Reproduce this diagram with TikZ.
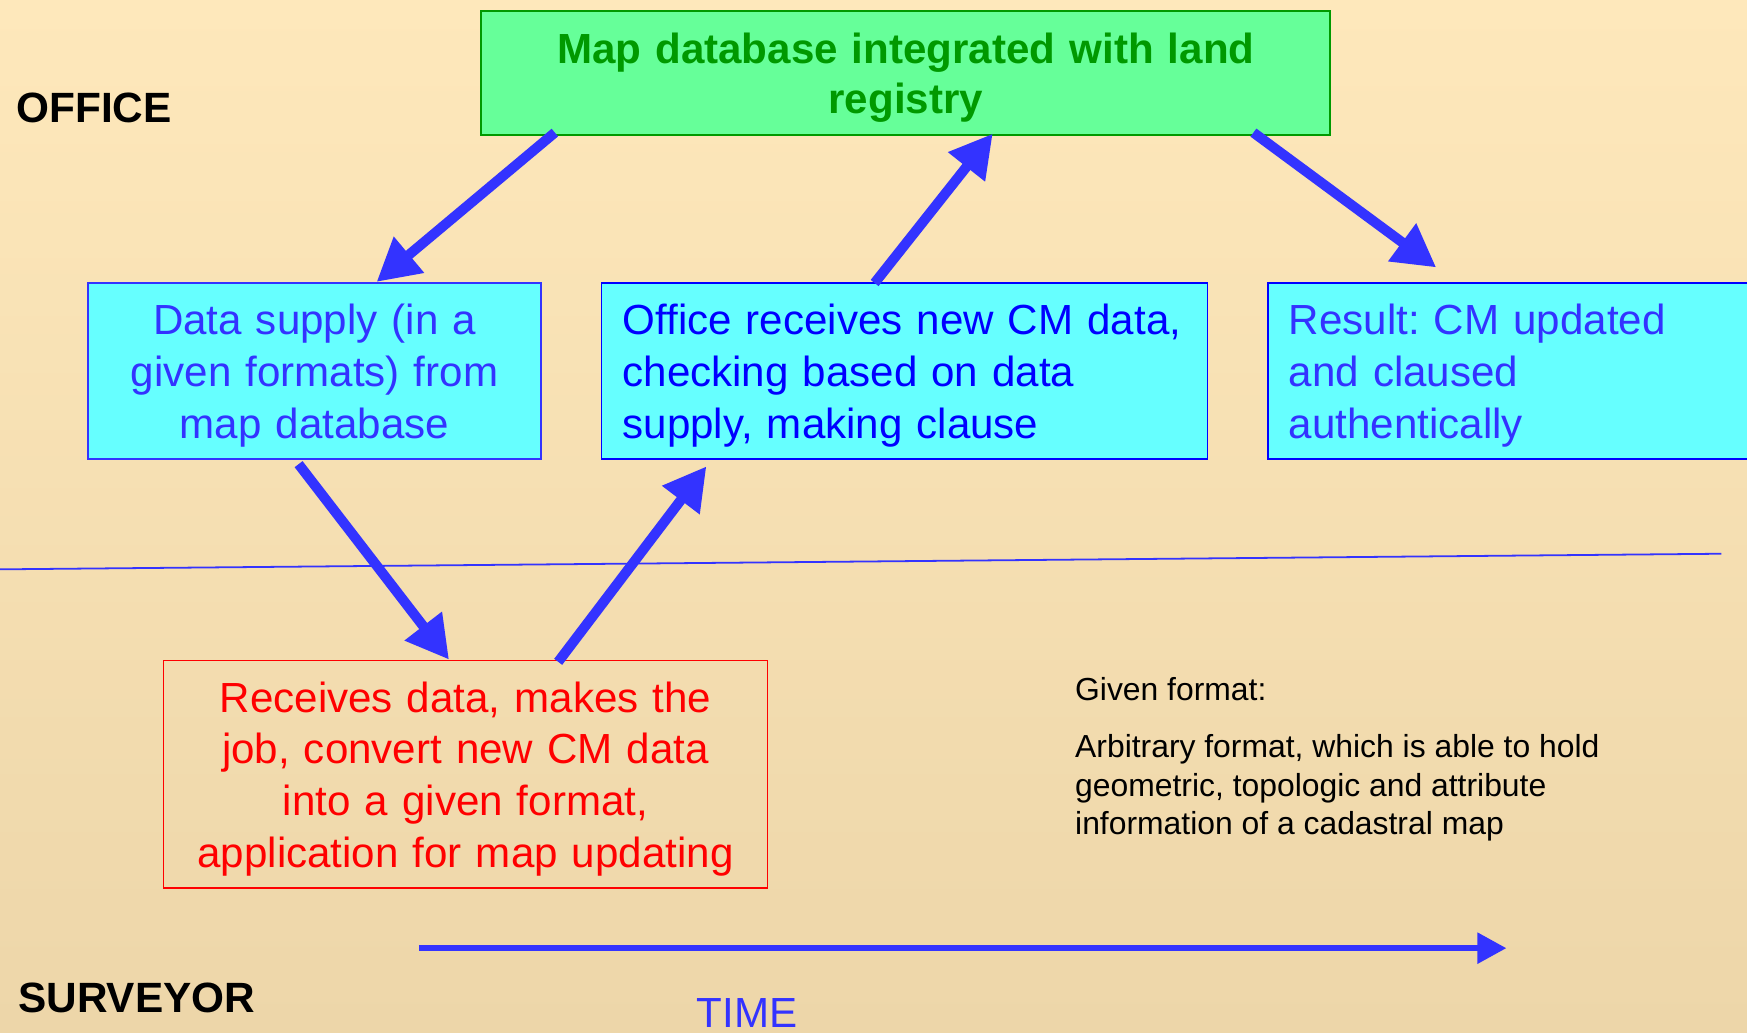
\documentclass[tikz,border=0pt]{standalone}
\usepackage{fontspec}
\setmainfont{Liberation Sans}
\usetikzlibrary{arrows.meta,calc}
\definecolor{bgtop}{HTML}{FEE8BB}
\definecolor{bgbot}{HTML}{EDD6A9}
\definecolor{gfill}{HTML}{66FF99}
\definecolor{gdark}{HTML}{009900}
\definecolor{cfill}{HTML}{66FFFF}
\definecolor{blueA}{HTML}{3333FF}
\definecolor{blueB}{HTML}{0000FF}
\definecolor{redC}{HTML}{FF0000}
\newcommand\boxstrut{\rule{0pt}{18pt}}
\frenchspacing
\begin{document}
\begin{tikzpicture}[x=0.5pt,y=-0.5pt,
  box/.style={rectangle, anchor=north west, inner sep=0pt, line width=0.8pt,
    font=\fontsize{18.9}{23.2}\selectfont\frenchspacing, minimum height=79pt},
  flow/.style={draw=blueA, line width=4.5pt, -{Triangle[length=19pt,width=20pt]}},
  timeline/.style={draw=blueA, line width=2.5pt, -{Triangle[length=13pt,width=13.5pt]}},
  lane/.style={font=\fontsize{19}{23}\selectfont\bfseries, anchor=base west, inner sep=0pt}]
\useasboundingbox (0,0) rectangle (1568,926.3);
\clip (0,0) rectangle (1568,926.3);
\shade[top color=bgtop, bottom color=bgbot] (0,0) rectangle (1568,926.3);

% separating line
\coordinate (h0) at (0,511);
\coordinate (h1) at (1545,497);
\draw[blueA, line width=0.8pt] (h0) -- (h1);

% boxes
\node[box, draw=gdark, line width=1pt, fill=gfill, text=gdark, minimum width=381pt, minimum height=55.5pt,
  text width=370pt, align=center, font=\fontsize{18.9}{22.5}\selectfont\bfseries] (g) at (431,9)
  {\boxstrut Map database integrated with land\\registry};
\node[box, draw=blueA, fill=cfill, text=blueA, minimum width=203.5pt, text width=190pt, align=center] (b1) at (78,253)
  {\boxstrut Data supply (in a\\given formats) from\\map database};
\node[box, draw=blueB, fill=cfill, text=blueB, minimum width=272pt, text width=253pt, inner xsep=9.5pt, align=left] (b2) at (539,253)
  {\boxstrut Office receives new CM data,\\checking based on data\\supply, making clause};
\node[box, draw=blueB, fill=cfill, text=blueA, text width=270pt, inner xsep=9.5pt, align=left] (b3) at (1137,253)
  {\boxstrut Result: CM updated\\and claused\\authentically};
\node[box, draw=redC, text=redC, minimum width=271pt, minimum height=102pt, text width=260pt, align=center] (r) at (146,592)
  {\boxstrut Receives data, makes the\\job, convert new CM data\\into a given format,\\application for map updating};

% flow arrows
\draw[flow] ($(g.south west)+(67,-3)$) -- ($(b1.north west)+(260,0)$);
\draw[flow] ($(b2.north west)+(246,1)$) -- ($(g.south west)+(460,-2)$);
\draw[flow] ($(g.south west)+(694,-3)$) -- ($(b3.north west)+(152,-13)$);
\draw[flow] ($(b1.south west)+(190,4)$) -- ($(r.north west)+(257,0)$);
\draw[flow] ($(r.north west)+(355,2)$) -- ($(b2.south west)+(95,6)$);

% time arrow
\coordinate (t0) at (376,851);
\coordinate (t1) at (1352,851);
\draw[timeline] (t0) -- (t1);

% labels
\node[lane] (office) at (14.4,110) {OFFICE};
\node[lane] (surveyor) at (16,909) {SURVEYOR};
\node[anchor=base west, inner sep=0pt, text=blueA, font=\fontsize{18.9}{23}\selectfont] (time) at (625,922) {TIME};
\node[anchor=north west, inner sep=0pt, align=left, font=\fontsize{14.3}{17.2}\selectfont\frenchspacing] (note) at (964.6,607.4)
  {Given format:\\[8.6pt]Arbitrary format, which is able to hold\\geometric, topologic and attribute\\information of a cadastral map};
\end{tikzpicture}
\end{document}
